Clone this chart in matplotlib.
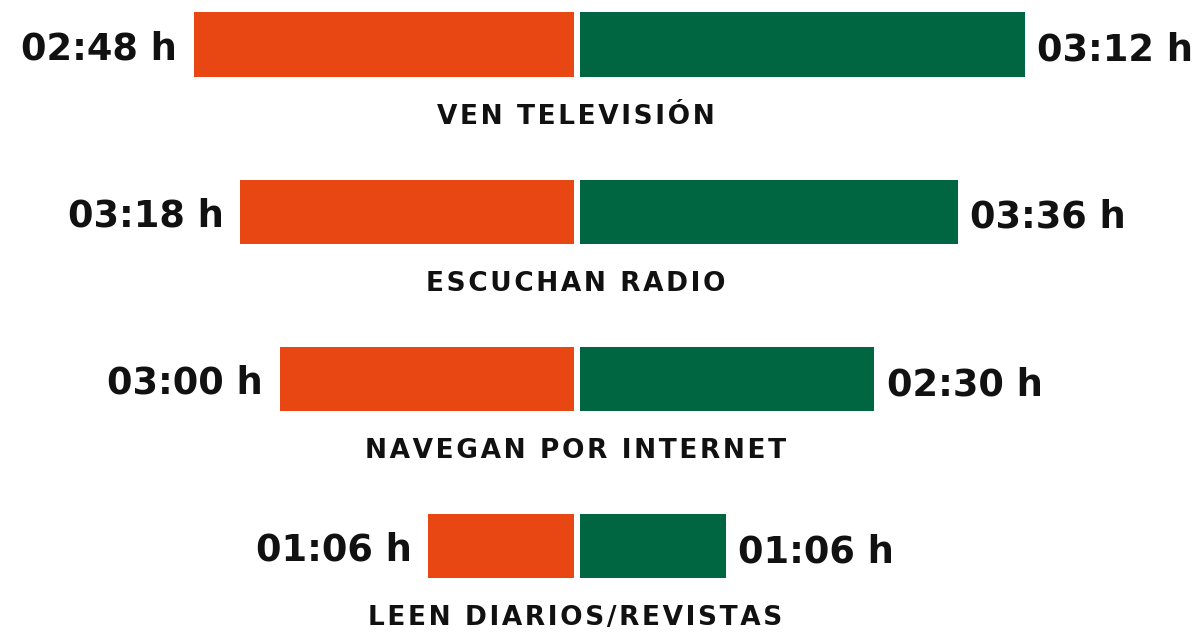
import matplotlib.pyplot as plt
import numpy as np

# categories, top to bottom
categorias = ['VEN TELEVISIÓN', 'ESCUCHAN RADIO', 'NAVEGAN POR INTERNET', 'LEEN DIARIOS/REVISTAS']
# bar lengths as drawn in the infographic (not proportional to the labels)
izq_largo = [164, 144, 127, 63]
der_largo = [192, 163, 127, 63]
# labels printed next to the bars
izq_txt = ['02:48 h', '03:18 h', '03:00 h', '01:06 h']
der_txt = ['03:12 h', '03:36 h', '02:30 h', '01:06 h']

naranja = '#E84612'
verde = '#006641'

plt.rcParams['font.family'] = ['DejaVu Sans']

fig = plt.figure(figsize=(12.04, 6.37), dpi=100)
ax = fig.add_axes([0, 0, 1, 1])

y = np.arange(len(categorias))
gap = 1.1  # white separation at the centre
alto = 0.383

ax.barh(y, -np.array(izq_largo), left=-gap, height=alto, color=naranja)
ax.barh(y, der_largo, left=gap, height=alto, color=verde)

for i in range(len(categorias)):
    ax.annotate(izq_txt[i], (-gap - izq_largo[i], y[i]), xytext=(-12, -3),
                textcoords='offset points', ha='right', va='center',
                fontsize=26.5, fontweight='bold', color='#111111')
    ax.annotate(der_txt[i], (gap + der_largo[i], y[i]), xytext=(9, -4),
                textcoords='offset points', ha='left', va='center',
                fontsize=26.5, fontweight='bold', color='#111111')
    ax.annotate('\u200a'.join(categorias[i]), (0, y[i]), xytext=(-1, -52),
                textcoords='offset points', ha='center', va='center',
                fontsize=19, fontweight='bold', color='#111111')

ax.set_xlim(-577 / 2.32, (1204 - 577) / 2.32)
ax.set_ylim(3.543, -0.266)
ax.axis('off')

fig.savefig('out.png', dpi=100)
